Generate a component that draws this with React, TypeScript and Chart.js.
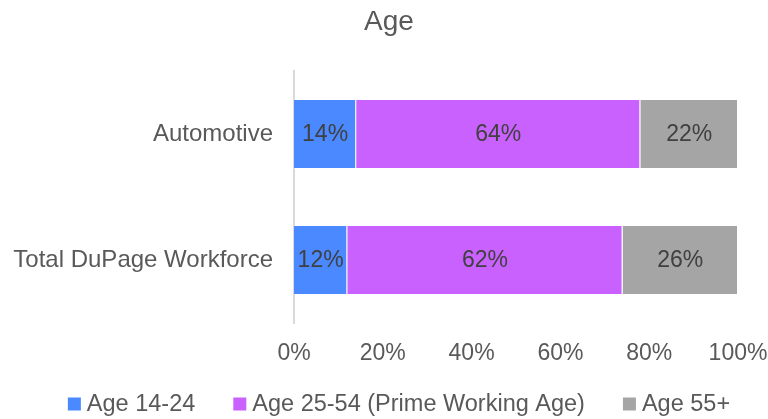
import React, { useEffect, useRef } from "react";
import { Chart, registerables } from "chart.js";

Chart.register(...registerables);

const categories = ["Automotive", "Total DuPage Workforce"];
const seriesNames = ["Age 14-24", "Age 25-54 (Prime Working Age)", "Age 55+"];
const age1424 = [14, 12];
const age2554 = [64, 62];
const age55 = [22, 26];
const xTicks = [0, 20, 40, 60, 80, 100];

const colors = ["#4A89FF", "#C961FF", "#A5A5A5"];
const FONT = "'Liberation Sans', Arial, sans-serif";

const dataLabelPlugin = {
  id: "dataLabels",
  afterDatasetsDraw(chart: any) {
    const ctx = chart.ctx;
    ctx.save();
    ctx.font = `23px ${FONT}`;
    ctx.fillStyle = "#404040";
    ctx.textAlign = "center";
    ctx.textBaseline = "middle";
    chart.data.datasets.forEach((ds: any, di: number) => {
      const meta = chart.getDatasetMeta(di);
      meta.data.forEach((bar: any, i: number) => {
        const p = bar.getProps(["x", "y", "base"], true);
        const cx = (p.x + p.base) / 2;
        ctx.fillText(`${ds.data[i]}%`, cx, p.y + 1);
      });
    });
    ctx.restore();
  },
};

// Legend drawn under the axis, from the datasets' own labels and colours
const legendPlugin = {
  id: "bottomLegend",
  afterDraw(chart: any) {
    const ctx = chart.ctx;
    const box = 13;
    const gapText = 6;
    const gapItem = 38;
    const centerX = 399;
    const centerY = 404;
    ctx.save();
    ctx.font = `23.5px ${FONT}`;
    ctx.textBaseline = "middle";
    ctx.textAlign = "left";
    const items = chart.data.datasets.map((ds: any) => ({
      text: ds.label,
      color: ds.backgroundColor,
      w: ctx.measureText(ds.label).width,
    }));
    const total =
      items.reduce((s: number, it: any) => s + box + gapText + it.w, 0) +
      gapItem * (items.length - 1);
    let x = centerX - total / 2;
    items.forEach((it: any) => {
      ctx.fillStyle = it.color;
      ctx.fillRect(x, centerY - box / 2, box, box);
      x += box + gapText;
      ctx.fillStyle = "#595959";
      ctx.fillText(it.text, x, centerY + 1);
      x += it.w + gapItem;
    });
    ctx.restore();
  },
};

export default function App() {
  const ref = useRef<HTMLCanvasElement>(null);
  useEffect(() => {
    if (!ref.current) return;
    const chart = new Chart(ref.current, {
      type: "bar",
      data: {
        labels: categories,
        datasets: [age1424, age2554, age55].map((d, i) => ({
          label: seriesNames[i],
          data: d,
          backgroundColor: colors[i],
          borderColor: "rgba(255,255,255,0.5)",
          borderWidth: 1,
          barPercentage: 0.556,
          categoryPercentage: 1,
        })),
      },
      options: {
        indexAxis: "y",
        animation: false,
        responsive: true,
        maintainAspectRatio: false,
        layout: { padding: { left: 10, right: 0, top: 0, bottom: 51.4 } },
        scales: {
          x: {
            stacked: true,
            min: 0,
            max: 100,
            afterBuildTicks: (scale: any) => {
              scale.ticks = xTicks.map((v) => ({ value: v }));
            },
            afterFit: (scale: any) => {
              scale.height = 44.6;
              scale.paddingRight = 30;
              scale.paddingLeft = 15;
            },
            grid: { display: false, drawTicks: false },
            border: { display: false },
            ticks: {
              padding: 17,
              color: "#595959",
              font: { size: 23, family: FONT },
              callback: (v: any) => `${v}%`,
            },
          },
          y: {
            stacked: true,
            afterFit: (scale: any) => {
              scale.width = 284;
            },
            grid: { display: false, drawTicks: false },
            border: { display: true, color: "#D9D9D9", width: 2 },
            ticks: {
              padding: 21,
              color: "#595959",
              font: { size: 24, family: FONT },
            },
          },
        },
        plugins: {
          title: {
            display: true,
            text: "Age",
            color: "#595959",
            font: { size: 28, family: FONT, weight: "normal" },
            padding: { top: 5.7, bottom: 31.7 },
          },
          legend: { display: false },
          tooltip: { enabled: false },
        },
      },
      plugins: [dataLabelPlugin, legendPlugin],
    } as any);
    return () => chart.destroy();
  }, []);
  return (
    <div style={{ position: "absolute", left: 0, top: 0, width: 768, height: 419 }}>
      <canvas ref={ref} />
    </div>
  );
}
